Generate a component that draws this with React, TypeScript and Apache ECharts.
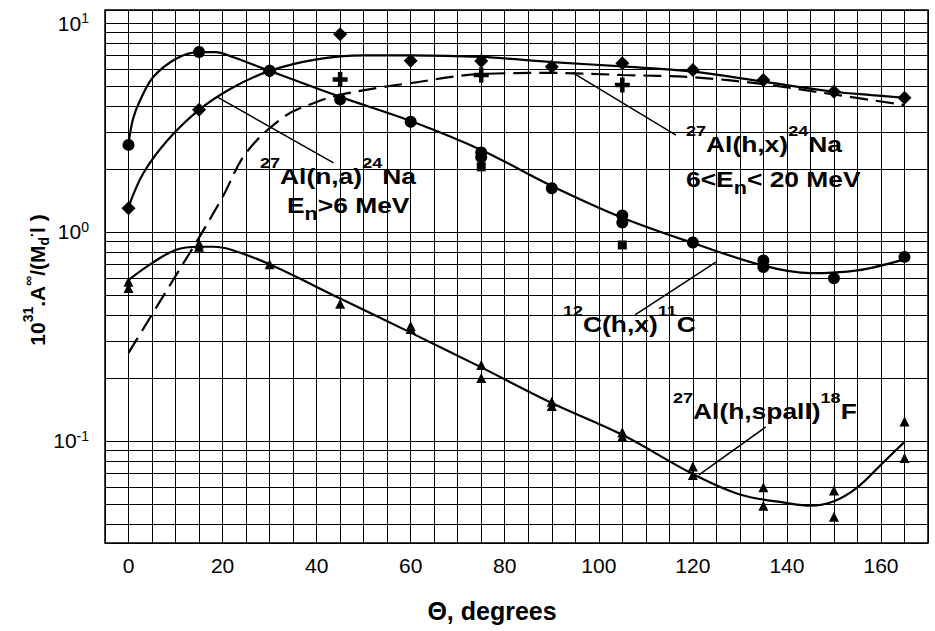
import React, { useEffect, useRef } from 'react';
import * as echarts from 'echarts';

// ---- axis ticks / labels ----
const xLabelValues = [0, 20, 40, 60, 80, 100, 120, 140, 160];
const yDecades = [0.1, 1, 10];
const yDecadeLabels = ['{b|10}{s|-1}', '{b|10}{s|0}', '{b|10}{s|1}'];
const yMinorGrid = [0.04, 0.05, 0.06, 0.07, 0.08, 0.09, 0.2, 0.3, 0.4, 0.5, 0.6, 0.7, 0.8, 0.9, 2, 3, 4, 5, 6, 7, 8, 9];

// ---- measured points ----
// 12C(h,x)11C  (circles)
const circlePts = [[0, 2.61], [15, 7.26], [30, 5.91], [45, 4.31], [60, 3.37], [75, 2.40], [75, 2.28], [90, 1.62], [105, 1.20], [105, 1.11], [120, 0.89], [135, 0.73], [135, 0.68], [150, 0.60], [165, 0.76]];
// 27Al(n,a)24Na  (diamonds)
const diamondPts = [[0, 1.30], [15, 3.84], [30, 5.9], [45, 8.83], [60, 6.6], [75, 6.58], [90, 6.18], [105, 6.41], [120, 5.96], [135, 5.33], [150, 4.69], [165, 4.39]];
// 27Al(h,x)24Na  (plus markers)
const plusPts = [[45, 5.37], [75, 5.64], [105, 5.05]];
// extra squares
const squarePts = [[75, 2.05], [105, 0.867]];
// 27Al(h,spall)18F (triangles)
const trianglePts = [[0, 0.578], [0, 0.54], [15, 0.85], [15, 0.88], [30, 0.70], [45, 0.453], [60, 0.355], [60, 0.343], [75, 0.231], [75, 0.20], [90, 0.154], [90, 0.147], [105, 0.110], [105, 0.105], [120, 0.0754], [120, 0.0688], [135, 0.060], [135, 0.049], [150, 0.058], [150, 0.0434], [165, 0.124], [165, 0.083]];

// ---- fitted curves ----
const curveC = [[0, 2.65], [1, 3.5], [2.5, 4.28], [5.3, 5.53], [10.4, 6.8], [15, 7.26], [18.5, 7.26], [22, 6.9], [30, 5.9], [45, 4.43], [60, 3.4], [75, 2.47], [90, 1.66], [105, 1.17], [120, 0.886], [135, 0.69], [145, 0.635], [155, 0.655], [165, 0.74]];
const curveNa = [[0, 1.32], [3.2, 1.92], [8.3, 2.75], [15, 3.84], [22, 4.89], [30, 5.9], [40, 6.7], [50, 7.0], [60, 7.0], [75, 6.88], [90, 6.5], [105, 6.2], [120, 5.85], [135, 5.24], [150, 4.69], [158, 4.52], [165, 4.39]];
const curveNaH = [[0, 0.264], [11, 0.67], [15, 0.94], [20, 1.47], [25, 2.39], [33, 3.55], [40, 4.19], [45, 4.53], [53, 4.89], [60, 5.16], [75, 5.70], [90, 5.77], [105, 5.64], [120, 5.5], [135, 5.1], [150, 4.55], [165, 4.05]];
const curveF = [[0, 0.59], [5, 0.71], [10, 0.82], [15, 0.85], [18, 0.85], [22, 0.82], [30, 0.70], [45, 0.48], [60, 0.33], [75, 0.225], [90, 0.152], [105, 0.107], [120, 0.0695], [130, 0.0555], [140, 0.0505], [145, 0.049], [150, 0.0515], [155, 0.060], [160, 0.077], [165, 0.099]];

// ---- label pointer lines (data coords) ----
const pointers = [
  [[18.9, 4.42], [43.6, 2.14]],
  [[94.5, 5.77], [116.4, 2.91]],
  [[107.7, 0.401], [124.9, 0.718]],
  [[135.5, 0.1167], [121.3, 0.0688]],
];

const FONT = '"Liberation Sans", Arial, Helvetica, sans-serif';

const annRich = {
  b: { fontSize: 22, fontWeight: 'bold', fontFamily: FONT, color: '#000', verticalAlign: 'middle' },
  sup: { fontSize: 15, fontWeight: 'bold', fontFamily: FONT, color: '#000', padding: [0, 0, 26, 0], verticalAlign: 'middle' },
  sub: { fontSize: 18, fontWeight: 'bold', fontFamily: FONT, color: '#000', padding: [18, 0, 0, 0], verticalAlign: 'middle' },
};

function ann(x: number, y: number, text: string) {
  return {
    type: 'text',
    x,
    y,
    z: 100,
    scaleX: 1.2,
    style: { text, rich: annRich, align: 'left', verticalAlign: 'middle' },
  };
}

export default function App() {
  const ref = useRef<HTMLDivElement>(null);
  useEffect(() => {
    if (!ref.current) return;
    const chart = echarts.init(ref.current, null, { renderer: 'svg' });
    const lineSeries = (data: number[][], dashed = false) => ({
      type: 'line',
      data,
      smooth: 0.35,
      showSymbol: false,
      symbol: 'none',
      silent: true,
      z: 3,
      lineStyle: { color: '#000', width: 2.2, type: dashed ? [18, 8] : 'solid' },
    });
    const scatter = (data: number[][], symbol: string, size: number) => ({
      type: 'scatter',
      data,
      symbol,
      symbolSize: size,
      z: 5,
      itemStyle: { color: '#000', opacity: 1 },
    });
    chart.setOption({
      animation: false,
      backgroundColor: '#fff',
      grid: { left: 105, top: 10, right: 7, bottom: 88, show: true, borderColor: '#000', borderWidth: 1.5, backgroundColor: 'transparent' },
      xAxis: {
        type: 'value',
        min: -5,
        max: 170,
        interval: 5,
        axisLine: { show: false },
        axisTick: { show: false },
        axisLabel: {
          margin: 12,
          fontSize: 21,
          fontFamily: FONT,
          color: '#000',
          formatter: (v: number) => (xLabelValues.includes(v) ? String(v) : ''),
        },
        splitLine: { show: true, lineStyle: { color: '#000', width: 1 } },
      },
      yAxis: {
        type: 'log',
        logBase: 10,
        min: 0.0325,
        max: 11.54,
        axisLine: { show: false },
        axisTick: { show: false },
        axisLabel: {
          margin: 16,
          color: '#000',
          formatter: (v: number) => {
            for (let i = 0; i < yDecades.length; i++) {
              if (Math.abs(v - yDecades[i]) / yDecades[i] < 1e-6) return yDecadeLabels[i];
            }
            return '';
          },
          rich: {
            b: { fontSize: 21, fontFamily: FONT, color: '#000', verticalAlign: 'middle' },
            s: { fontSize: 14, fontFamily: FONT, color: '#000', padding: [0, 0, 10, 0], verticalAlign: 'middle' },
          },
        },
        splitLine: { show: true, lineStyle: { color: '#000', width: 1 } },
      },
      graphic: [
        ann(260, 176, '{sup|27}{b|Al(n,a)}{sup|24}{b|Na}'),
        ann(287, 205, '{b|E}{sub|n}{b|>6 MeV}'),
        ann(686, 144, '{sup|27}{b|Al(h,x)}{sup|24}{b|Na}'),
        ann(686, 179, '{b|6<E}{sub|n}{b|< 20 MeV}'),
        ann(563, 324, '{sup|12}{b|C(h,x)}{sup|11}{b|C}'),
        ann(673, 411, '{sup|27}{b|Al(h,spall)}{sup|18}{b|F}'),
        {
          type: 'text',
          x: 492,
          y: 611,
          style: { text: 'Θ, degrees', font: `bold 25px ${FONT}`, fill: '#000', align: 'center', verticalAlign: 'middle' },
        },
        {
          type: 'text',
          x: 37,
          y: 280,
          rotation: Math.PI / 2,
          style: {
            text: '{b|10}{sup|31}{b|.A}{sup|∞}{b|/(M}{sub|d}{sup|.}{b|l )}',
            align: 'center',
            verticalAlign: 'middle',
            rich: {
              b: { fontSize: 21, fontWeight: 'bold', fontFamily: FONT, color: '#000', verticalAlign: 'middle' },
              sup: { fontSize: 14, fontWeight: 'bold', fontFamily: FONT, color: '#000', padding: [0, 0, 18, 0], verticalAlign: 'middle' },
              sub: { fontSize: 14, fontWeight: 'bold', fontFamily: FONT, color: '#000', padding: [14, 0, 0, 0], verticalAlign: 'middle' },
            },
          },
        },
      ],
      series: [
        {
          type: 'scatter',
          data: [],
          silent: true,
          z: 1,
          markLine: {
            silent: true,
            symbol: 'none',
            label: { show: false },
            lineStyle: { color: '#000', width: 1, type: 'solid' },
            data: yMinorGrid.map((v) => ({ yAxis: v })),
          },
        },
        {
          type: 'scatter',
          data: [],
          silent: true,
          z: 4,
          markLine: {
            silent: true,
            symbol: 'none',
            label: { show: false },
            lineStyle: { color: '#000', width: 1.5, type: 'solid' },
            data: pointers.map((p) => [{ coord: p[0] }, { coord: p[1] }]),
          },
        },
        lineSeries(curveC),
        lineSeries(curveNa),
        lineSeries(curveNaH, true),
        lineSeries(curveF),
        scatter(circlePts, 'circle', 12),
        scatter(diamondPts, 'diamond', 14),
        scatter(plusPts, 'path://M35,0H65V35H100V65H65V100H35V65H0V35H35Z', 15),
        scatter(squarePts, 'rect', 9),
        scatter(trianglePts, 'triangle', 10),
      ],
    });
    return () => chart.dispose();
  }, []);
  return <div ref={ref} style={{ position: 'absolute', left: 0, top: 0, width: 935, height: 631 }} />;
}
